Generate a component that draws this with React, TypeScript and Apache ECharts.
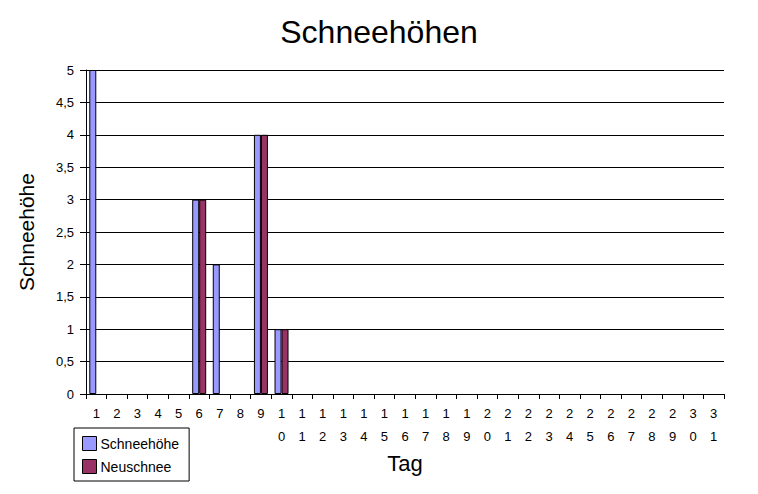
import React, { useEffect, useRef } from "react";
import * as echarts from "echarts";

const days: string[] = Array.from({ length: 31 }, (_, i) => String(i + 1));
const schneehoehe: (number | null)[] = [5, null, null, null, null, 3, 2, null, 4, 1, null, null, null, null, null, null, null, null, null, null, null, null, null, null, null, null, null, null, null, null, null];
const neuschnee: (number | null)[] = [null, null, null, null, null, 3, null, null, 4, 1, null, null, null, null, null, null, null, null, null, null, null, null, null, null, null, null, null, null, null, null, null];

const FONT = "Liberation Sans, Arial, sans-serif";

export default function App() {
  const ref = useRef<HTMLDivElement>(null);
  useEffect(() => {
    if (!ref.current) return;
    const chart = echarts.init(ref.current, null, { renderer: "svg" });
    chart.setOption({
      animation: false,
      backgroundColor: "#ffffff",
      textStyle: { fontFamily: FONT, color: "#000" },
      title: {
        text: "Schneehöhen",
        left: "center",
        top: 11,
        textStyle: { fontFamily: FONT, fontSize: 32, fontWeight: "normal", color: "#000" },
      },
      legend: {
        orient: "vertical",
        left: 74,
        top: 428,
        borderColor: "#000",
        borderWidth: 1,
        padding: [8, 10, 7, 8],
        itemWidth: 14,
        itemHeight: 14,
        itemGap: 8,
        icon: "rect",
        itemStyle: { borderColor: "#000", borderWidth: 1 },
        textStyle: { fontFamily: FONT, fontSize: 14, color: "#000", padding: [0, 0, 0, -1] },
        data: ["Schneehöhe", "Neuschnee"],
      },
      grid: { left: 86, right: 34, top: 70, bottom: 100, containLabel: false, outerBoundsMode: "none" },
      xAxis: {
        type: "category",
        data: days,
        name: "Tag",
        nameLocation: "middle",
        nameGap: 58,
        nameTextStyle: { fontFamily: FONT, fontSize: 22, color: "#000" },
        axisLine: { lineStyle: { color: "#000", width: 1 } },
        axisTick: { show: true, length: 5, alignWithLabel: false, lineStyle: { color: "#000" } },
        axisLabel: {
          interval: 0,
          margin: 8,
          fontFamily: FONT,
          fontSize: 13,
          color: "#000",
          lineHeight: 23,
          formatter: (v: string) => v.split("").join("\n"),
        },
      },
      yAxis: {
        type: "value",
        min: 0,
        max: 5,
        interval: 0.5,
        name: "Schneehöhe",
        nameLocation: "middle",
        nameGap: 49,
        nameRotate: 90,
        nameTextStyle: { fontFamily: FONT, fontSize: 21, color: "#000" },
        axisLine: { show: true, lineStyle: { color: "#000", width: 1 } },
        axisTick: { show: true, length: 6, lineStyle: { color: "#000" } },
        axisLabel: {
          margin: 12,
          fontFamily: FONT,
          fontSize: 13,
          color: "#000",
          formatter: (v: number) => String(v).replace(".", ","),
        },
        splitLine: { show: true, lineStyle: { color: "#000", width: 1 } },
      },
      series: [
        {
          name: "Schneehöhe",
          type: "bar",
          data: schneehoehe,
          barWidth: 7,
          barGap: "0%",
          itemStyle: { color: "#9999ff", borderColor: "#000", borderWidth: 1 },
        },
        {
          name: "Neuschnee",
          type: "bar",
          data: neuschnee,
          barWidth: 7,
          barGap: "0%",
          itemStyle: { color: "#993366", borderColor: "#000", borderWidth: 1 },
        },
      ],
    });
    return () => chart.dispose();
  }, []);
  return <div ref={ref} style={{ width: 758, height: 494, position: "absolute", left: 0, top: 0 }} />;
}
